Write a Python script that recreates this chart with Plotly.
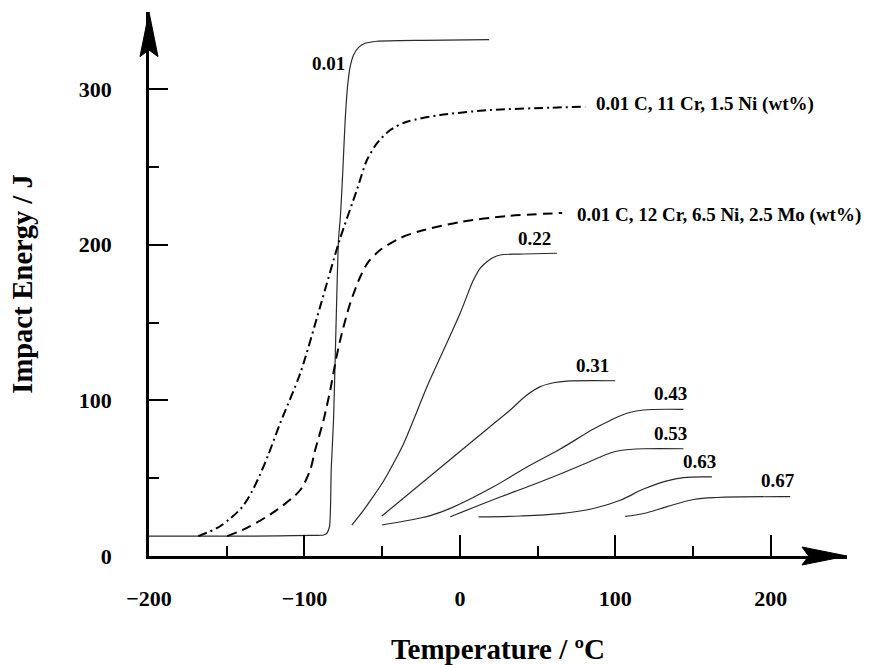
import plotly.graph_objects as go

# ---- data ----
# 0.01 C curve (solid)
t_001 = [-200, -134.9, -96.3, -87.7, -85.6, -83.9, -83.2, -82.8, -81.3, -80.2, -78.1, -76.8,
         -75.3, -73.8, -72.3, -70.6, -68.4, -65.2, -60.9, -53.4, -23.4, 18.8]
e_001 = [12.8, 12.8, 13.2, 13.5, 14.6, 18.8, 32.8, 55.3, 87.4, 128, 203, 219,
         248, 280.1, 301.5, 314.4, 321.9, 326.8, 329.4, 330.7, 331.3, 331.7]

# 0.01 C, 11 Cr, 1.5 Ni (dash-dot)
t_cr11 = [-168.3, -156.1, -147.7, -140.0, -133.6, -128.4, -123.3, -115.6, -102.7, -89.9, -77.4,
          -66.3, -59.8, -53.4, -44.8, -34.1, -12.7, 19.5, 58.1, 80.6]
e_cr11 = [12.8, 18.0, 24.1, 31.5, 41.8, 52.7, 64.9, 85.4, 117.4, 160.2, 203.0,
          235.1, 254.4, 265.1, 273.7, 279.0, 283.3, 286.5, 288.0, 288.7]

# 0.01 C, 12 Cr, 6.5 Ni, 2.5 Mo (dashed)
t_cr12 = [-149.7, -137.0, -117.7, -102.7, -96.3, -93.1, -87.7, -83.4, -80.2, -77.0, -70.6,
          -64.1, -58.8, -51.3, -38.4, -25.5, 0.2, 29.8, 65.8]
e_cr12 = [12.8, 18.0, 29.6, 42.4, 55.3, 68.1, 87.4, 106.6, 123.8, 138.8, 162.3,
          179.4, 189.1, 196.6, 204.3, 208.8, 214.6, 218.4, 220.4]

t_022 = [-69.5, -62.8, -56.4, -49.1, -42.7, -36.3, -28.8, -21.2, -10.5, 0.2, 8.7, 13.1, 17.4,
         21.4, 25.9, 38.8, 62.4]
e_022 = [19.9, 28.3, 37.3, 48.2, 59.6, 72.0, 89.9, 108.8, 132.3, 156.1, 177.3, 185.0, 189.1,
         191.8, 193.4, 194.0, 194.5]

t_031 = [-50.2, -21.2, 0.2, 19.5, 32.4, 43.1, 51.7, 60.2, 68.8, 99.9]
e_031 = [25.7, 49.6, 67.3, 83.2, 93.8, 103.4, 108.8, 111.3, 112.4, 112.6]

t_043 = [-50.2, -25.5, -18.0, -6.2, 21.6, 42.0, 64.5, 85.9, 96.7, 107.4, 118.1, 143.8]
e_043 = [19.9, 24.4, 26.3, 30.6, 44.5, 56.5, 68.7, 81.6, 87.1, 91.7, 93.8, 94.2]

t_053 = [-6.2, 25.9, 43.1, 64.5, 85.9, 96.7, 103.1, 118.1, 143.8]
e_053 = [25.2, 37.9, 44.3, 52.7, 61.7, 66.2, 67.8, 68.9, 68.9]

t_063 = [12.0, 38.8, 64.5, 85.9, 103.1, 118.1, 133.2, 143.8, 162.1]
e_063 = [25.2, 25.7, 27.2, 30.5, 35.8, 43.0, 48.3, 50.4, 50.8]

t_067 = [106.3, 118.1, 133.2, 150.3, 165.3, 212.5]
e_067 = [25.4, 27.3, 31.7, 36.3, 37.6, 38.1]

x_tick_vals = [-200, -100, 0, 100, 200]
x_tick_text = ["\u2212200", "\u2212100", "0", "100", "200"]
x_minor_vals = [-150, -50, 50, 150]
y_tick_vals = [0, 100, 200, 300]
y_tick_text = ["0", "100", "200", "300"]
y_minor_vals = [50, 150, 250]

# curve labels: text, x, y, anchor
label_text = ["0.01", "0.01 C, 11 Cr, 1.5 Ni (wt%)", "0.01 C, 12 Cr, 6.5 Ni, 2.5 Mo (wt%)",
              "0.22", "0.31", "0.43", "0.53", "0.63", "0.67"]
label_x = [-72.5, 86.0, 74.0, 48.2, 85.4, 135.6, 135.6, 154.4, 204.6]
label_y = [316.5, 290.4, 219.1, 203.7, 122.4, 104.1, 79.0, 60.4, 48.2]
label_anchor = ["right", "left", "left", "center", "center", "center", "center", "center", "center"]

SERIF = "Liberation Serif, Times New Roman, serif"

fig = go.Figure()

steep = dict(color="#2a2a2a", width=1.2, shape="spline", smoothing=0.6)
fig.add_trace(go.Scatter(x=t_001, y=e_001, mode="lines", line=steep, showlegend=False,
                         hoverinfo="skip"))
solid = dict(color="#2a2a2a", width=1.2, shape="spline", smoothing=1.0)
for tx, ey in [(t_022, e_022), (t_031, e_031), (t_043, e_043),
               (t_053, e_053), (t_063, e_063), (t_067, e_067)]:
    fig.add_trace(go.Scatter(x=tx, y=ey, mode="lines", line=solid, showlegend=False,
                             hoverinfo="skip"))

fig.add_trace(go.Scatter(x=t_cr11, y=e_cr11, mode="lines", showlegend=False, hoverinfo="skip",
                         line=dict(color="black", width=2, dash="9px,4px,2px,4px",
                                   shape="spline", smoothing=0.8)))
fig.add_trace(go.Scatter(x=t_cr12, y=e_cr12, mode="lines", showlegend=False, hoverinfo="skip",
                         line=dict(color="black", width=2, dash="10px,6px",
                                   shape="spline", smoothing=0.8)))

for txt, lx, ly, anc in zip(label_text, label_x, label_y, label_anchor):
    fig.add_annotation(x=lx, y=ly, text=txt, showarrow=False, xanchor=anc, yanchor="middle",
                       font=dict(family=SERIF, size=19, color="black", weight="bold"))

# arrow heads on the axes (paper coordinates)
fig.add_shape(type="path", xref="paper", yref="paper",
              path="M 1 0 L 0.9355 0.0165 L 0.945 0 L 0.9355 -0.0165 Z",
              fillcolor="black", line=dict(color="black", width=1))
fig.add_shape(type="path", xref="paper", yref="paper",
              path="M 0 1 L -0.0129 0.918 L 0 0.93 L 0.0129 0.918 Z",
              fillcolor="black", line=dict(color="black", width=1))

axis_common = dict(showline=True, linecolor="black", linewidth=2.5, showgrid=False,
                   zeroline=False, ticks="inside", tickcolor="black", tickwidth=1.5,
                   automargin=False,
                   tickfont=dict(family=SERIF, size=22, color="black", weight="bold"))

fig.update_xaxes(range=[-200, 249], tickmode="array", tickvals=x_tick_vals,
                 ticktext=x_tick_text, ticklen=21, ticklabelstandoff=21,
                 minor=dict(ticks="inside", tickvals=x_minor_vals, ticklen=10,
                            tickwidth=1.5, tickcolor="black", showgrid=False),
                 title=dict(text="Temperature / \u00baC", standoff=38,
                            font=dict(family=SERIF, size=29, color="black", weight="bold")),
                 **axis_common)
fig.update_yaxes(range=[0, 349.5], tickmode="array", tickvals=y_tick_vals,
                 ticktext=y_tick_text, ticklen=19, ticklabelstandoff=30,
                 minor=dict(ticks="inside", tickvals=y_minor_vals, ticklen=10,
                            tickwidth=1.5, tickcolor="black", showgrid=False),
                 title=dict(text="Impact Energy / J", standoff=38,
                            font=dict(family=SERIF, size=28.5, color="black", weight="bold")),
                 **axis_common)

fig.update_layout(width=870, height=665, template="none",
                  margin=dict(l=149, r=23, t=12, b=109),
                  paper_bgcolor="white", plot_bgcolor="white", showlegend=False)

fig.write_html("out.html")
